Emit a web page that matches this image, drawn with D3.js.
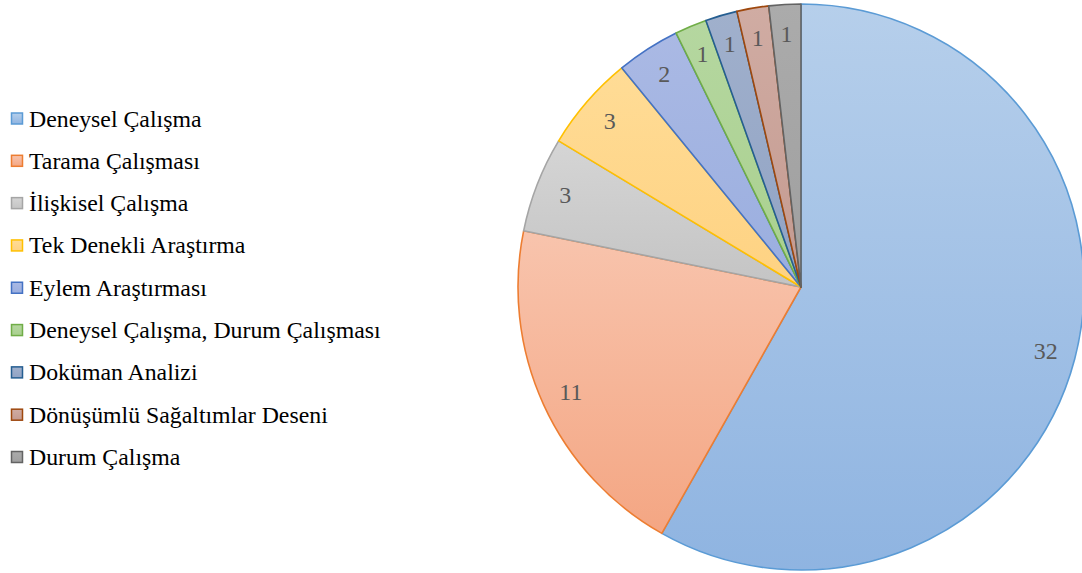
<!DOCTYPE html>
<html>
<head>
<meta charset="utf-8">
<script src="https://cdn.jsdelivr.net/npm/d3@7"></script>
<style>
  html, body { margin: 0; padding: 0; background: #fff; }
  svg { display: block; }
</style>
</head>
<body>
<svg id="chart" width="1082" height="573"></svg>
<script>
// Research designs and the number of studies using each
const categories = [
  "Deneysel Çalışma",
  "Tarama Çalışması",
  "İlişkisel Çalışma",
  "Tek Denekli Araştırma",
  "Eylem Araştırması",
  "Deneysel Çalışma, Durum Çalışması",
  "Doküman Analizi",
  "Dönüşümlü Sağaltımlar Deseni",
  "Durum Çalışma"
];
const values = [32, 11, 3, 3, 2, 1, 1, 1, 1];

// Outline colour and top/bottom gradient stops for each slice
const strokeColors = ["#5b9bd5", "#ed7d31", "#a5a5a5", "#ffc000", "#4472c4", "#70ad47", "#255e91", "#9e480e", "#636363"];
const fillTop      = ["#b6cfeb", "#f8c4ad", "#d5d5d5", "#ffdc96", "#aab9e4", "#b5d7a0", "#a0b0cc", "#d0aca3", "#ababab"];
const fillBottom   = ["#8fb4e1", "#f4a683", "#c4c4c4", "#fed282", "#9aaedf", "#a9d08e", "#91a3c4", "#c49a90", "#9f9f9f"];

const FONT = '"Liberation Serif", "Times New Roman", serif';

const svg = d3.select("#chart");
const cx = 801, cy = 287, radius = 283, labelRadius = 253;

const defs = svg.append("defs");
values.forEach((v, i) => {
  const g = defs.append("linearGradient")
    .attr("id", "grad" + i)
    .attr("x1", 0).attr("y1", 0).attr("x2", 0).attr("y2", 1);
  g.append("stop").attr("offset", "0%").attr("stop-color", fillTop[i]);
  g.append("stop").attr("offset", "100%").attr("stop-color", fillBottom[i]);
});

const pie = d3.pie().sort(null).value(d => d)
  .startAngle(0).endAngle(2 * Math.PI);
const arcs = pie(values);
const arc = d3.arc().innerRadius(0).outerRadius(radius);
const labelArc = d3.arc().innerRadius(labelRadius).outerRadius(labelRadius);

const pieG = svg.append("g").attr("transform", `translate(${cx},${cy})`);

pieG.selectAll("path.slice")
  .data(arcs)
  .join("path")
  .attr("class", "slice")
  .attr("d", arc)
  .attr("fill", (d, i) => `url(#grad${i})`)
  .attr("stroke", (d, i) => strokeColors[i])
  .attr("stroke-width", 1.6)
  .attr("stroke-linejoin", "round");

pieG.selectAll("text.value")
  .data(arcs)
  .join("text")
  .attr("class", "value")
  .attr("transform", d => `translate(${labelArc.centroid(d)})`)
  .attr("text-anchor", "middle")
  .attr("dominant-baseline", "central")
  .style("font-family", FONT)
  .style("font-size", "24px")
  .attr("fill", "#595959")
  .text(d => d.data);

// Legend
const legendY = d3.scalePoint().domain(categories).range([118.5, 457]);
const legend = svg.append("g");
const item = legend.selectAll("g.item")
  .data(categories)
  .join("g")
  .attr("class", "item")
  .attr("transform", d => `translate(0,${legendY(d)})`);

item.append("rect")
  .attr("x", 11.5).attr("y", -5.5)
  .attr("width", 11).attr("height", 11)
  .attr("fill", (d, i) => `url(#grad${i})`)
  .attr("stroke", (d, i) => strokeColors[i])
  .attr("stroke-width", 1.5);

item.append("text")
  .attr("x", 29)
  .attr("dominant-baseline", "central")
  .style("font-family", FONT)
  .style("font-size", "23.8px")
  .attr("fill", "#000")
  .text(d => d);
</script>
</body>
</html>
